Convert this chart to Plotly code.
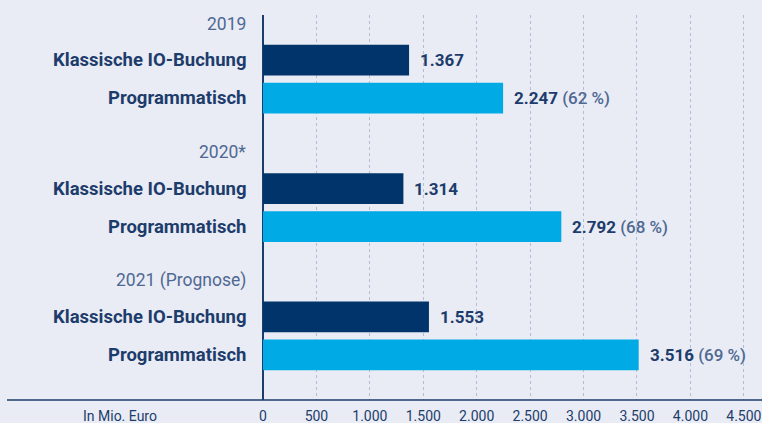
import plotly.graph_objects as go

# ---- data ----
years = ["2019", "2020*", "2021 (Prognose)"]
series_names = ["Klassische IO-Buchung", "Programmatisch"]
klassisch = [1367, 1314, 1553]
programmatisch = [2247, 2792, 3516]
anteil_prozent = [62, 68, 69]
x_tick_values = [0, 500, 1000, 1500, 2000, 2500, 3000, 3500, 4000, 4500]
axis_title = "In Mio. Euro"

# ---- styling ----
BG = "#e9ecf4"
NAVY = "#1d3c6c"
DARK = "#01346a"
LIGHT = "#00aae5"
MUTED = "#4f6893"
GRID = "#b3bdd5"
FONT = "Roboto"

STRIDE = 3.38
header_y = [g * STRIDE for g in range(len(years))]
dark_y = [h + 0.95 for h in header_y]
light_y = [h + 1.95 for h in header_y]

def fmt(v):
    return f"{v:,}".replace(",", ".")

fig = go.Figure()
fig.add_trace(go.Bar(x=klassisch, y=dark_y, orientation="h", width=0.81,
                     marker=dict(color=DARK, line=dict(width=0)),
                     name=series_names[0], hoverinfo="x"))
fig.add_trace(go.Bar(x=programmatisch, y=light_y, orientation="h", width=0.81,
                     marker=dict(color=LIGHT, line=dict(width=0)),
                     name=series_names[1], hoverinfo="x"))

ann = []
for g, yr in enumerate(years):
    ann.append(dict(x=0, xref="paper", y=header_y[g], yref="y", xanchor="right",
                    yanchor="middle", xshift=-15, text=yr, showarrow=False,
                    font=dict(family=FONT, size=17.5, color=MUTED)))
    ann.append(dict(x=0, xref="paper", y=dark_y[g], yref="y", xanchor="right",
                    yanchor="middle", xshift=-15, text=f"<b>{series_names[0]}</b>",
                    showarrow=False, font=dict(family=FONT, size=18.5, color=NAVY)))
    ann.append(dict(x=0, xref="paper", y=light_y[g], yref="y", xanchor="right",
                    yanchor="middle", xshift=-15, text=f"<b>{series_names[1]}</b>",
                    showarrow=False, font=dict(family=FONT, size=18.5, color=NAVY)))
    ann.append(dict(x=klassisch[g], xref="x", y=dark_y[g], yref="y", xanchor="left",
                    yanchor="middle", xshift=9, text=f"<b>{fmt(klassisch[g])}</b>",
                    showarrow=False, font=dict(family=FONT, size=17, color=NAVY)))
    ann.append(dict(x=programmatisch[g], xref="x", y=light_y[g], yref="y", xanchor="left",
                    yanchor="middle", xshift=9,
                    text=f"<b>{fmt(programmatisch[g])}</b> <span style='color:{MUTED};font-weight:500'>({anteil_prozent[g]} %)</span>",
                    showarrow=False, font=dict(family=FONT, size=17, color=NAVY)))

ann.append(dict(x=-0.2866, xref="paper", y=0, yref="paper", xanchor="center",
                yanchor="middle", yshift=-16, text=axis_title, showarrow=False,
                font=dict(family=FONT, size=14, color=NAVY)))

fig.update_layout(
    width=762, height=423,
    margin=dict(l=263, r=0, t=15, b=23),
    paper_bgcolor=BG, plot_bgcolor=BG,
    separators=",.",
    showlegend=False,
    barmode="overlay",
    annotations=ann,
    shapes=[dict(type="line", xref="paper", yref="paper", x0=-0.513, x1=1, y0=0, y1=0,
                 line=dict(color=NAVY, width=1.5))],
    font=dict(family=FONT, color=NAVY),
)
fig.update_xaxes(range=[0, 4670], tickvals=x_tick_values, tickformat=",d",
                 showgrid=True, gridcolor=GRID, griddash="3px,3px", gridwidth=1,
                 zeroline=True, zerolinecolor=NAVY, zerolinewidth=1.5,
                 showline=False, ticks="", ticklabelstandoff=6,
                 tickfont=dict(family=FONT, size=14, color=NAVY),
                 automargin=False, fixedrange=True)
fig.update_yaxes(range=[(400 - 24) / 38, -9 / 38], showticklabels=False, showgrid=False,
                 zeroline=False, showline=False, automargin=False, fixedrange=True)

fig.write_html("out.html", config={"displayModeBar": False},
               post_script="document.body.style.margin='0';document.body.style.overflow='hidden';")
